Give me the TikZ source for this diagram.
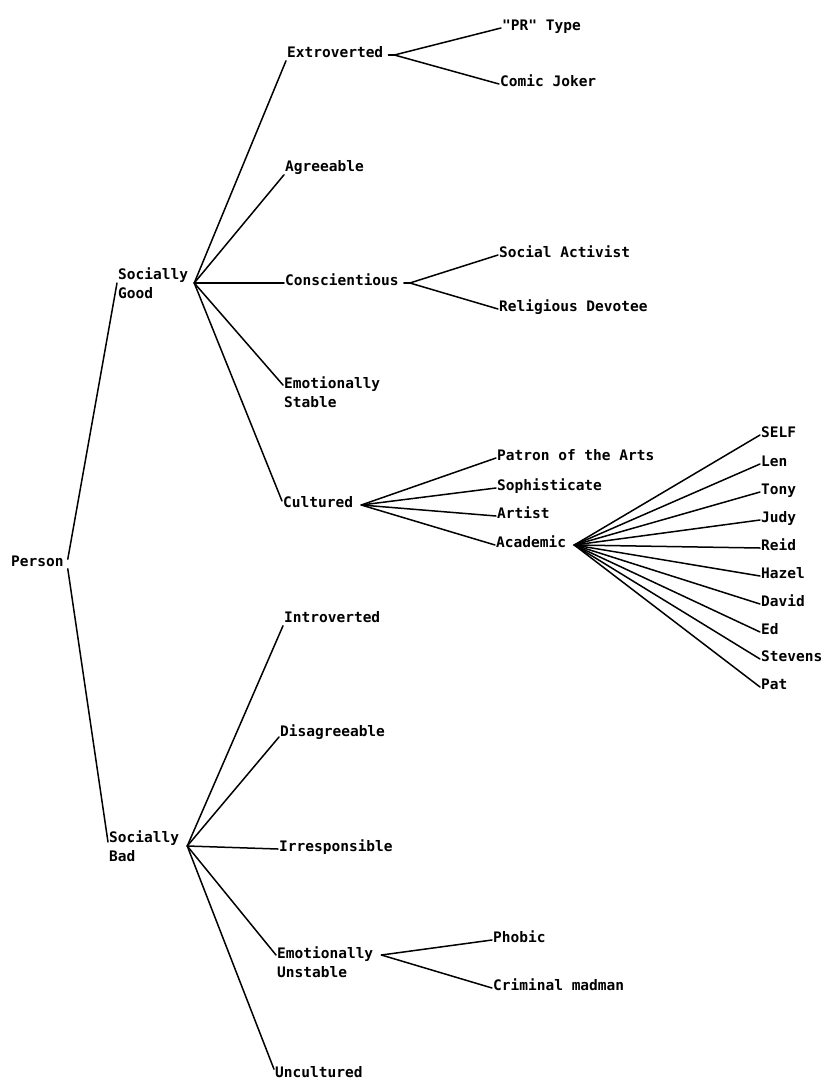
\documentclass[tikz,border=0pt]{standalone}
\usepackage{fontspec}
\newfontfamily\plotterfont{DejaVu Sans Mono}
\newcommand\plotlbl{\plotterfont\bfseries\fontsize{14.5}{19}\selectfont}
\begin{document}
\begin{tikzpicture}[x=1pt,y=-1pt,
  lbl/.style={font=\plotlbl, inner sep=1pt, anchor=west, yshift=-3pt, text height=0.72em, text depth=0.2em},
  lbl2/.style={font=\plotlbl, inner sep=1pt, anchor=west, yshift=-3pt, align=left},
  br/.style={line width=1.5pt, line cap=round, line join=round}]
\useasboundingbox (0,0) rectangle (824,1081);

% root and the two main branches
\node[lbl]  (p)  at (10,561)  {Person};
\node[lbl2] (sg) at (117,280) {Socially\\Good};
\node[lbl2] (sb) at (108,843) {Socially\\Bad};

% socially good traits
\node[lbl]  (ex) at (286,52)  {Extroverted};
\node[lbl]  (ag) at (284,166) {Agreeable};
\node[lbl]  (co) at (284,280) {Conscientious};
\node[lbl2] (es) at (283,389) {Emotionally\\Stable};
\node[lbl]  (cu) at (282,502) {Cultured};

% socially bad traits
\node[lbl]  (intro) at (283,617)  {Introverted};
\node[lbl]  (di)    at (279,731)  {Disagreeable};
\node[lbl]  (ir)    at (278,846)  {Irresponsible};
\node[lbl2] (eu)    at (276,959)  {Emotionally\\Unstable};
\node[lbl]  (un)    at (274,1072) {Uncultured};

% subtypes
\node[lbl] (pr) at (501,25)  {"PR" Type};
\node[lbl] (cj) at (499,81)  {Comic Joker};
\node[lbl] (sa) at (498,252) {Social Activist};
\node[lbl] (rd) at (498,306) {Religious Devotee};
\node[lbl] (pa) at (496,455) {Patron of the Arts};
\node[lbl] (so) at (496,485) {Sophisticate};
\node[lbl] (ar) at (496,513) {Artist};
\node[lbl] (ac) at (495,542) {Academic};
\node[lbl] (ph) at (492,937) {Phobic};
\node[lbl] (cm) at (492,985) {Criminal madman};

% individual academics
\node[lbl] (n1)  at (760,432) {SELF};
\node[lbl] (n2)  at (760,461) {Len};
\node[lbl] (n3)  at (760,489) {Tony};
\node[lbl] (n4)  at (760,517) {Judy};
\node[lbl] (n5)  at (760,545) {Reid};
\node[lbl] (n6)  at (760,573) {Hazel};
\node[lbl] (n7)  at (760,601) {David};
\node[lbl] (n8)  at (760,629) {Ed};
\node[lbl] (n9)  at (760,656) {Stevens};
\node[lbl] (n10) at (760,684) {Pat};

% branches
\draw[br] ([xshift=3pt,yshift=-1pt]p.north east) -- (sg.west);
\draw[br] ([xshift=3pt,yshift=1pt]p.south east) -- ([yshift=4pt]sb.west);

\draw[br] ([xshift=5pt]sg.east) -- (ex.south west);
\draw[br] ([xshift=5pt]sg.east) -- (ag.south west);
\draw[br] ([xshift=5pt]sg.east) -- (co.west);
\draw[br] ([xshift=5pt]sg.east) -- ([yshift=7pt]es.west);
\draw[br] ([xshift=5pt]sg.east) -- ([yshift=4pt]cu.west);

\draw[br] ([xshift=7pt]sb.east) -- (intro.south west);
\draw[br] ([xshift=7pt]sb.east) -- ([yshift=-3pt]di.west);
\draw[br] ([xshift=7pt]sb.east) -- (ir.west);
\draw[br] ([xshift=7pt]sb.east) -- ([yshift=7pt]eu.west);
\draw[br] ([xshift=7pt]sb.east) -- (un.north west);

\draw[br] ([xshift=4pt]ex.east) -- ([xshift=10pt]ex.east);
\draw[br] ([xshift=10pt]ex.east) -- (pr.west);
\draw[br] ([xshift=10pt]ex.east) -- (cj.west);

\draw[br] ([xshift=4pt]co.east) -- ([xshift=10pt]co.east);
\draw[br] ([xshift=10pt]co.east) -- (sa.west);
\draw[br] ([xshift=10pt]co.east) -- (rd.west);

\foreach \t in {pa,so,ar,ac}
  \draw[br] ([xshift=7pt]cu.east) -- (\t.west);

\foreach \t in {n1,n2,n3,n4,n5,n6,n7,n8,n9,n10}
  \draw[br] ([xshift=7pt]ac.east) -- (\t.west);

\draw[br] ([xshift=7pt,yshift=7pt]eu.east) -- (ph.west);
\draw[br] ([xshift=7pt,yshift=7pt]eu.east) -- (cm.west);
\end{tikzpicture}
\end{document}
